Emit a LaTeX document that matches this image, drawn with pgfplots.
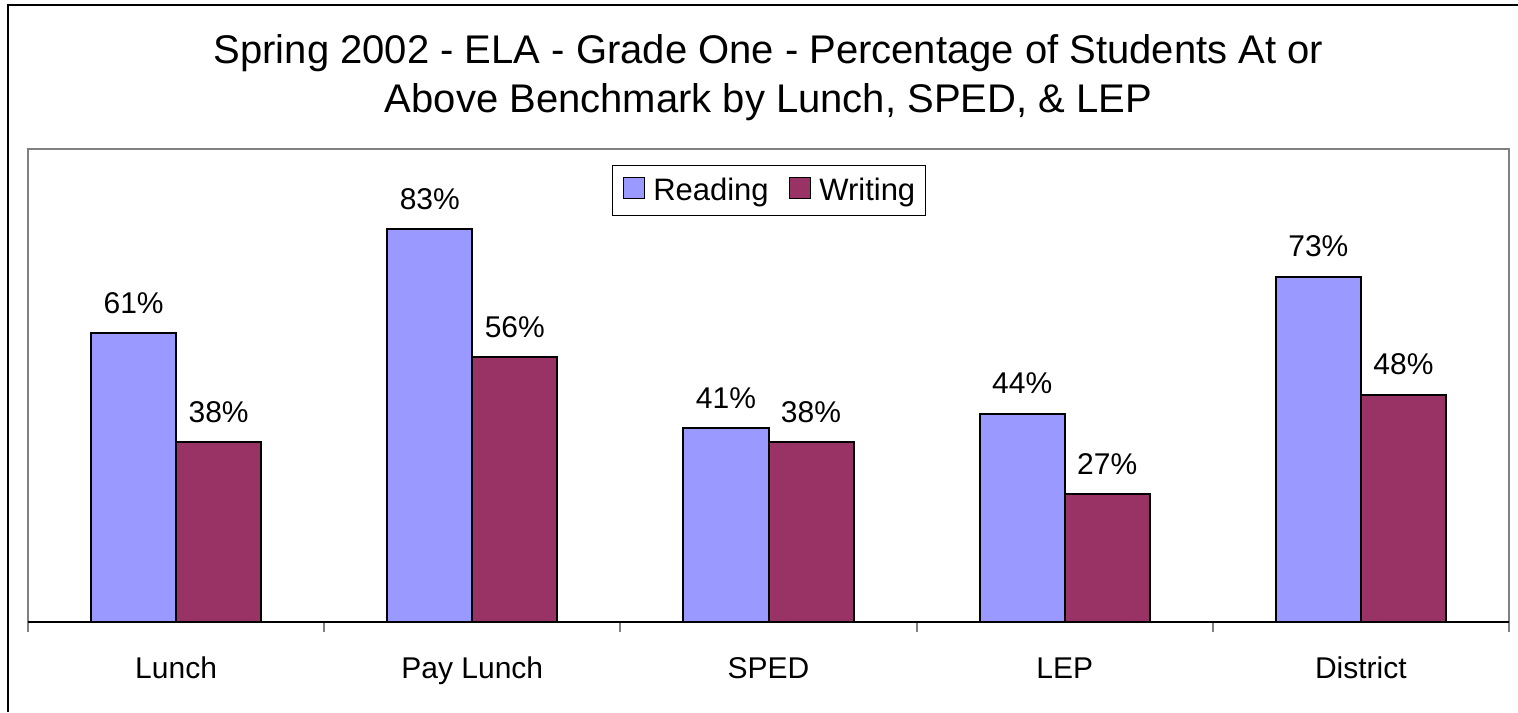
\documentclass[border=0pt]{standalone}
\usepackage{pgfplots}
\pgfplotsset{compat=1.18}
\usepackage{fontspec}
\setmainfont{Liberation Sans}
\definecolor{readc}{HTML}{9999FF}
\definecolor{writec}{HTML}{993366}
\definecolor{framegray}{HTML}{808080}
\begin{document}
\begin{tikzpicture}
\useasboundingbox (0pt,0pt) rectangle (759pt,356pt);
\draw[black, line width=1pt] (4pt,0pt) -- (4pt,353.5pt) -- (759pt,353.5pt);
\node[anchor=base, inner sep=0pt, font=\fontsize{20}{24}\selectfont] at (384.25pt,324pt) {Spring 2002 - ELA - Grade One - Percentage of Students At or};
\node[anchor=base, inner sep=0pt, font=\fontsize{20}{24}\selectfont] at (384.25pt,299.5pt) {Above Benchmark by Lunch, SPED, \& LEP};
\begin{axis}[
  at={(14pt,45pt)}, anchor=south west,
  width=740.5pt, height=236.5pt, scale only axis,
  xmin=-0.5, xmax=4.5, ymin=0, ymax=100,
  ytick=\empty,
  xtick={0,1,2,3,4},
  xticklabels={Lunch,Pay Lunch,SPED,LEP,District},
  xtick pos=left,
  major tick length=0pt,
  xticklabel style={anchor=base, inner sep=0pt, yshift=-28pt, font=\fontsize{15}{18}\selectfont},
  extra x ticks={-0.5,0.5,1.5,2.5,3.5,4.5},
  extra x tick labels={},
  extra x tick style={xtick pos=left, major tick length=5pt, tick align=outside, tick style={framegray, line width=1pt}},
  axis line style={framegray, line width=1pt},
  ybar=0pt,
  bar width=0.287,
  nodes near coords={\pgfmathprintnumber{\pgfplotspointmeta}\%},
  /pgf/number format/assume math mode=true,
  every node near coord/.append style={anchor=base, inner sep=0pt, yshift=10pt, font=\fontsize{15}{18}\selectfont, text=black},
  legend columns=2,
  legend image code/.code={\draw[#1, line width=0.8pt] (0pt,-4pt) rectangle (10.5pt,6.5pt);},
  legend style={at={(0.3943,0.966)}, anchor=north west, draw=black, line width=0.7pt,
    font=\fontsize{15.5}{18}\selectfont, inner xsep=5pt, inner ysep=4pt,
    /tikz/every odd column/.append style={column sep=4pt},
    /tikz/every even column/.append style={column sep=10pt},
    nodes={inner xsep=0pt, inner ysep=2pt}},
]
\addplot[fill=readc, draw=black, line width=1pt, bar shift=-0.1435] coordinates {(0,61) (1,83) (2,41) (3,44) (4,73)};
\addplot[fill=writec, draw=black, line width=1pt, bar shift=0.1435] coordinates {(0,38) (1,56) (2,38) (3,27) (4,48)};
\legend{Reading,Writing\hspace{8.5pt}}
\draw[black, line width=0.75pt] (rel axis cs:0,0) -- (rel axis cs:1,0);
\end{axis}
\end{tikzpicture}
\end{document}
